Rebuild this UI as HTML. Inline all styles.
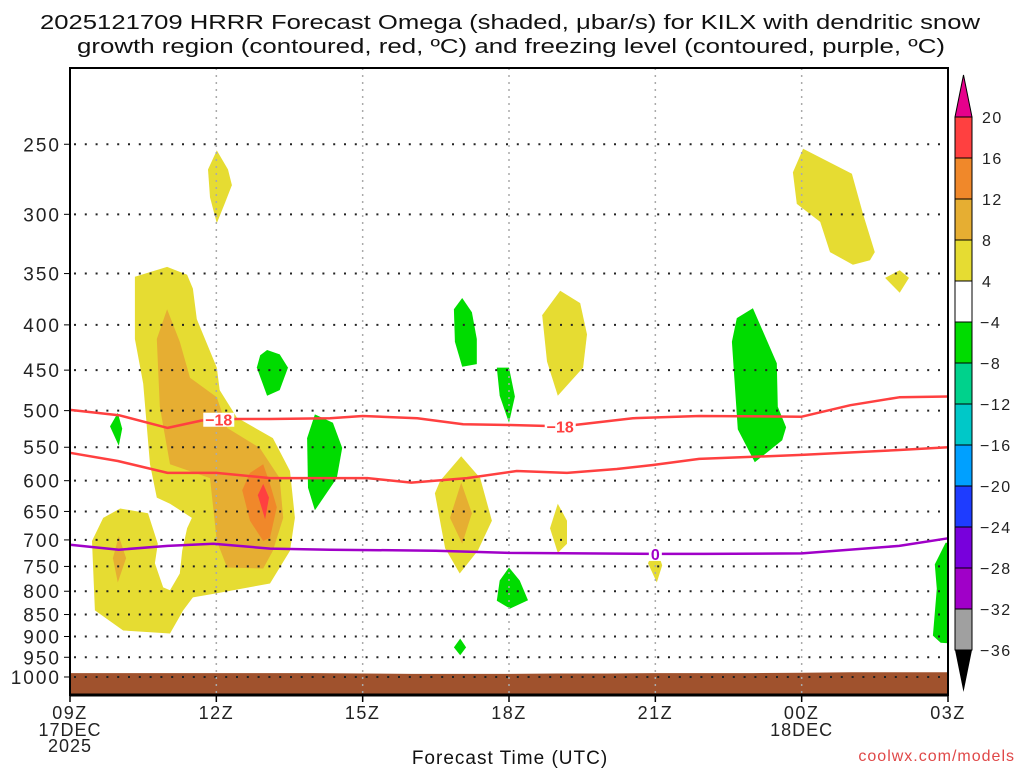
<!DOCTYPE html>
<html><head><meta charset="utf-8"><title>HRRR Omega KILX</title>
<style>html,body{margin:0;padding:0;background:#fff}svg{display:block}text{font-family:"Liberation Sans",sans-serif}</style>
</head><body>
<svg id="chart" xmlns="http://www.w3.org/2000/svg" width="1024" height="768" viewBox="0 0 1024 768">
<rect x="0" y="0" width="1024" height="768" fill="#fff"/>
<g font-size="20" fill="#111" text-anchor="middle">
<text x="510" y="29" textLength="940" lengthAdjust="spacingAndGlyphs">2025121709 HRRR Forecast Omega (shaded, μbar/s) for KILX with dendritic snow</text>
<text x="511" y="53" textLength="868" lengthAdjust="spacingAndGlyphs">growth region (contoured, red, ºC) and freezing level (contoured, purple, ºC)</text>
</g>
<g id="fills"></g>
<g id="ground"></g>
<g id="grid"></g>
<g id="lines"></g>
<g id="axes"></g>
<g id="cbar"></g>
<text x="510" y="764" font-size="19" text-anchor="middle" letter-spacing="1" fill="#111">Forecast Time (UTC)</text>
<text x="1015" y="761" font-size="16" text-anchor="end" fill="#e04848" letter-spacing="1">coolwx.com/models</text>
</svg>
<script>
const timeTicks = ["09Z","12Z","15Z","18Z","21Z","00Z","03Z"];
const timeTickHours = [0,3,6,9,12,15,18];
const pressureTicks = [250,300,350,400,450,500,550,600,650,700,750,800,850,900,950,1000];
const cbarLevels = [20,16,12,8,4,-4,-8,-12,-16,-20,-24,-28,-32,-36];
const cbarColors = ["#ff4040","#f0882a","#e6ae32","#e6dc32","#ffffff","#00dc00","#00d28c","#00c8c8","#00a0ff","#1e3cff","#7800dc","#a000c8","#a0a0a0"];
const surfaceHours = [0,1,2,3,4,5,6,7,8,9,10,11,12,13,14,15,16,17,18];
const surfacePressure = [990,990,990,990,990,990,991,992,992,992,991,991,990,990,990,989,988,988,988];
// contour lines [hour, hPa]
const dgzTop = [[0,499],[1,506],[2,523],[2.7,513],[3.3,511],[4.1,511],[5.33,510],[6,507],[7.12,510],[8.06,518],[9.02,519],[10.1,521],[11.54,510],[12.9,507],[15,508],[16,493],[17,483],[18,482]];
const dgzBottom = [[0,558],[0.98,570],[2,588],[3,588],[4.1,596],[5.33,596],[6.1,596],[7,603],[8.14,596],[9.16,585],[10.19,588],[11.21,582],[11.95,576],[12.9,567],[15,561],[17,554],[18,550]];
const freezingLevel = [[0,709],[1,718],[2,711],[2.94,707],[4.1,716],[5.33,718],[7.5,720],[9,724],[12,726],[13,726],[15,725],[17,711],[18,697]];
// shaded omega regions [hour, hPa]
const yellowMain = [[1.33,415],[1.33,353],[1.99,344],[2.4,351],[2.52,364],[2.6,394],[3.01,447],[3.07,474],[3.42,509],[4.16,537],[4.51,585],[4.61,661],[4.51,720],[4.1,784],[3.01,804],[2.52,813],[2.32,841],[2.05,893],[1.09,886],[0.51,841],[0.45,702],[0.68,661],[1.03,645],[1.6,653],[1.8,707],[1.74,744],[1.91,792],[2.05,798],[2.25,764],[2.3,720],[2.4,679],[2.5,661],[2.05,637],[1.78,627],[1.64,575],[1.5,466]];
const orangeMain = [[1.99,384],[2.25,418],[2.46,459],[3.01,483],[3.22,523],[3.89,551],[4.3,596],[4.37,661],[4.16,720],[3.96,754],[3.22,752],[3.01,702],[2.87,596],[2.05,575],[1.84,495],[1.78,415]];
const darkOrangeMain = [[3.96,575],[4.1,605],[4.24,643],[4.1,696],[3.96,702],[3.69,666],[3.53,615],[3.69,588]];
const redMain = [[3.96,605],[4.08,627],[4.0,663],[3.85,623]];
const orangeLobe = [[1.0,693],[1.15,734],[0.98,782],[0.88,734]];
const yellowHigh12Z = [[3.01,254],[3.24,267],[3.32,278],[3.18,291],[3.01,307],[2.87,287],[2.83,267]];
const yellow17Z = [[8.02,563],[8.41,596],[8.65,666],[8.36,720],[7.99,764],[7.69,715],[7.48,620],[7.59,600]];
const orange17Z = [[8.02,603],[8.24,653],[8.04,707],[7.79,661]];
const yellow19ZHigh = [[10.05,366],[10.46,378],[10.6,410],[10.52,447],[10.0,481],[9.78,440],[9.68,390]];
const yellow19ZLow = [[10.0,637],[10.19,666],[10.19,707],[10.0,724],[9.84,679]];
const yellow21Z = [[12.01,711],[12.14,748],[12.03,782],[11.85,744]];
const yellow00Z = [[15.03,253],[16.03,270],[16.26,300],[16.5,331],[16.4,338],[16.05,342],[15.58,331],[15.38,306],[14.9,292],[14.82,269]];
const yellow02Z = [[16.71,354],[17.01,347],[17.2,354],[17.01,368]];
const greenLeft = [[0.98,503],[1.07,524],[1.0,548],[0.82,521]];
const green13Z = [[4.04,427],[4.3,432],[4.47,447],[4.3,474],[4.04,481],[3.83,447],[3.9,433]];
const green14Z = [[5.02,505],[5.39,516],[5.58,551],[5.47,596],[5.02,648],[4.88,611],[4.86,537]];
const green17ZHigh = [[8.04,373],[8.24,387],[8.34,415],[8.34,443],[8.04,446],[7.89,418],[7.87,384]];
const green18ZMid = [[8.75,447],[9.0,447],[9.12,482],[9.0,516],[8.81,481]];
const green18ZLow = [[9.0,752],[9.22,778],[9.39,819],[9.02,837],[8.75,820],[8.81,778]];
const green17ZTiny = [[8.0,905],[8.12,926],[8.0,945],[7.87,926]];
const green23Z = [[14.0,383],[14.49,442],[14.51,495],[14.68,522],[14.6,540],[14.04,572],[13.69,525],[13.57,418],[13.67,393]];
const green03Z = [[18,705],[17.95,705],[17.73,746],[17.77,795],[17.69,898],[17.85,915],[18,916]];

const NS = "http://www.w3.org/2000/svg";
const X0 = 70, X1 = 948, Y0 = 68, Y1 = 695, HOURS = 18;
const PTOP = 205, PBOT = 1048;
function xOf(h){ return X0 + (X1 - X0) * h / HOURS; }
function yOf(p){ return Y0 + (Y1 - Y0) * Math.log(p / PTOP) / Math.log(PBOT / PTOP); }
function mk(tag, attrs, parent){ const e = document.createElementNS(NS, tag); for (const k in attrs) e.setAttribute(k, attrs[k]); parent.appendChild(e); return e; }
function pts(arr){ return arr.map(d => xOf(d[0]).toFixed(1) + "," + yOf(d[1]).toFixed(1)).join(" "); }

const fills = document.getElementById("fills");
const shadeList = [
  [yellowMain,"#e6dc32","yellow-region-main"],[orangeMain,"#e6ae32","orange-region-main"],[darkOrangeMain,"#f0882a","dark-orange-region-main"],[redMain,"#ff4040","red-region-main"],[orangeLobe,"#e6ae32","orange-region-lobe"],
  [yellowHigh12Z,"#e6dc32","yellow-region-12z-high"],[yellow17Z,"#e6dc32","yellow-region-17z"],[orange17Z,"#e6ae32","orange-region-17z"],[yellow19ZHigh,"#e6dc32","yellow-region-19z-high"],[yellow19ZLow,"#e6dc32","yellow-region-19z-low"],[yellow21Z,"#e6dc32","yellow-region-21z"],[yellow00Z,"#e6dc32","yellow-region-00z"],[yellow02Z,"#e6dc32","yellow-region-02z"],
  [greenLeft,"#00dc00","green-region-10z"],[green13Z,"#00dc00","green-region-13z"],[green14Z,"#00dc00","green-region-14z"],[green17ZHigh,"#00dc00","green-region-17z-high"],[green18ZMid,"#00dc00","green-region-18z-mid"],[green18ZLow,"#00dc00","green-region-18z-low"],[green17ZTiny,"#00dc00","green-region-17z-tiny"],[green23Z,"#00dc00","green-region-23z"],[green03Z,"#00dc00","green-region-03z"]
];
shadeList.forEach(s => {
  const e = mk("polygon", {points: pts(s[0]), fill: s[1], "stroke-linejoin":"round"}, fills);
  
  
});

const gnd = document.getElementById("ground");
let gp = surfaceHours.map((h,i) => xOf(h).toFixed(1) + "," + yOf(surfacePressure[i]).toFixed(1)).join(" ");
gp += " " + X1 + "," + Y1 + " " + X0 + "," + Y1;
const ge = mk("polygon", {points: gp, fill: "#a0522d"}, gnd);



const grid = document.getElementById("grid");
pressureTicks.forEach(p => {
  const y = yOf(p);
  const l = mk("line", {x1: X0+4, x2: X1, y1: y, y2: y, stroke: "#222", "stroke-width": 2, "stroke-dasharray": "2,8.8"}, grid);
  
  
});
timeTickHours.forEach(h => {
  if (h === 0 || h === HOURS) return;
  const x = xOf(h);
  const l = mk("line", {x1: x, x2: x, y1: Y0, y2: Y1, stroke: "#aaa", "stroke-width": 1.5, "stroke-dasharray": "2,5"}, grid);
  
  
});

const lines = document.getElementById("lines");
[[dgzTop,"#ff4040","dgz-minus18-upper"],[dgzBottom,"#ff4040","dgz-lower-contour"],[freezingLevel,"#a000c8","freezing-level-line"]].forEach(s => {
  const e = mk("polyline", {points: pts(s[0]), fill: "none", stroke: s[1], "stroke-width": 2.5, "stroke-linejoin": "round"}, lines);
  
  
});
const labs = [[3.05,512,"-18","#ff4040"],[10.05,521,"-18","#ff4040"],[12.0,726,"0","#a000c8"]];
labs.forEach(l => {
  const x = xOf(l[0]), y = yOf(l[1]);
  const w = l[2].length * 9 + 4;
  mk("rect", {x: x - w/2, y: y - 7, width: w, height: 14, fill: "#fff"}, lines);
  const t = mk("text", {x: x, y: y + 6, "font-size": 16, "font-weight": "bold", "text-anchor": "middle", fill: l[3]}, lines);
  t.textContent = l[2].replace("-", "\u2212");
  
  
});

const axes = document.getElementById("axes");
mk("rect", {x: X0, y: Y0, width: X1 - X0, height: Y1 - Y0, fill: "none", stroke: "#000", "stroke-width": 2}, axes);
mk("line", {x1: X0, x2: X1, y1: Y1, y2: Y1, stroke: "#000", "stroke-width": 3}, axes);
pressureTicks.forEach(p => {
  const y = yOf(p);
  mk("line", {x1: X0 - 6, x2: X0, y1: y, y2: y, stroke: "#000", "stroke-width": 1}, axes);
  const t = mk("text", {x: 61, y: y + 7, "font-size": 19, "text-anchor": "end", "letter-spacing": 2, fill: "#222"}, axes);
  t.textContent = p;
  
  
});
timeTickHours.forEach((h, i) => {
  const x = xOf(h);
  mk("line", {x1: x, x2: x, y1: Y1, y2: Y1 + 7, stroke: "#000", "stroke-width": 1.5}, axes);
  const t = mk("text", {x: x, y: 719, "font-size": 18, "text-anchor": "middle", "letter-spacing": 1.5, fill: "#222"}, axes);
  t.textContent = timeTicks[i];
  
  
});
[[0,"17DEC",736],[0,"2025",752],[15,"18DEC",736]].forEach(d => {
  const t = mk("text", {x: xOf(d[0]), y: d[2], "font-size": 18, "text-anchor": "middle", "letter-spacing": 1, fill: "#222"}, axes);
  t.textContent = d[1];
  
  
});

const cb = document.getElementById("cbar");
const CBX = 955, CBW = 17, CBT = 117, CBS = 41.0;
function cbY(i){ return CBT + i * CBS; }
mk("polygon", {points: `${CBX},${cbY(0)} ${CBX+CBW/2},75 ${CBX+CBW},${cbY(0)}`, fill: "#e6008c", stroke: "#000", "stroke-width": 1}, cb);
cbarColors.forEach((c, i) => {
  const r = mk("rect", {x: CBX, y: cbY(i), width: CBW, height: CBS, fill: c, stroke: "#000", "stroke-width": 1}, cb);
  
  
});
const last = cbY(cbarColors.length);
mk("polygon", {points: `${CBX},${last} ${CBX+CBW/2},692 ${CBX+CBW},${last}`, fill: "#000"}, cb);
cbarLevels.forEach((v, i) => {
  const t = mk("text", {x: v < 0 ? 980 : 982, y: cbY(i) + 6, "font-size": 16, "letter-spacing": 1.5, fill: "#222"}, cb);
  t.textContent = v < 0 ? "\u2212" + Math.abs(v) : String(v);
  
  
});
</script>
</body></html>
